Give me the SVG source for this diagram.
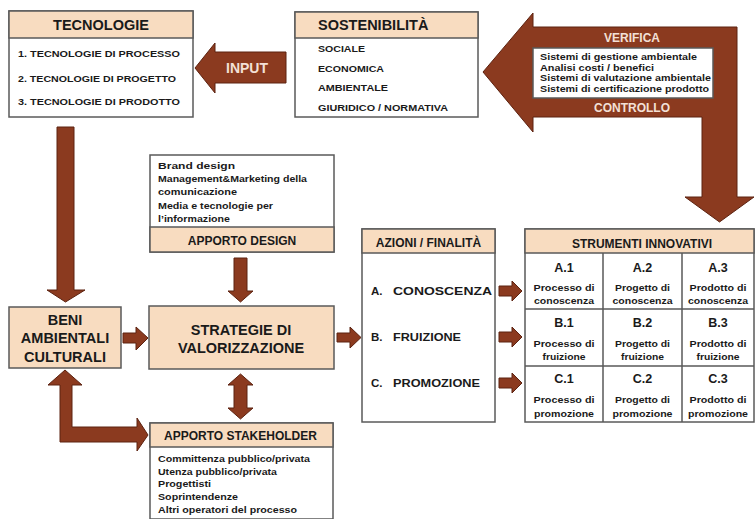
<svg xmlns="http://www.w3.org/2000/svg" width="755" height="519" viewBox="0 0 755 519">
<defs>
<style>
text{font-family:"Liberation Sans",Arial,sans-serif;font-weight:bold;fill:#1a1a1a}
.box{fill:#fff;stroke:#5a5a5a;stroke-width:1.5}
.hdr{fill:#f8dcc0;stroke:#5a5a5a;stroke-width:1.5}
.arr{fill:#8b3a1f;stroke:#5c2210;stroke-width:1}
.h1{font-size:14.5px;text-anchor:middle}
.h2{font-size:12px;text-anchor:middle}
.it{font-size:9.5px}
.sm{font-size:9.8px}
.ac{font-size:11.5px}
.c1{font-size:12.5px;text-anchor:middle}
.c2{font-size:9.8px;text-anchor:middle}
.lt{fill:#f3e0d6;text-anchor:middle}
.grid{stroke:#5a5a5a;stroke-width:1.5;fill:none}
</style>
</defs>

<g id="connectors">
<polygon class="arr" points="195,68 215,43 215,52 286,52 286,83 215,83 215,93"/>
<polygon class="arr" points="483,72 533,13 533,27 737,27 737,197 754,197 719.5,222 685,197 702,197 702,117 533,117 533,132"/>
<polygon class="arr" points="57,127 74,127 74,290 85,290 65.5,302 47,290 57,290"/>
<polygon class="arr" points="123,333 136,333 136,327 148,338 136,350 136,343 123,343"/>
<polygon class="arr" points="234,258 247,258 247,291 253,291 240.5,302 228,291 234,291"/>
<polygon class="arr" points="240.5,374 253,385 247,385 247,408 253,408 240.5,419 228,408 234,408 234,385 228,385"/>
<polygon class="arr" points="65,370 82,385 72,385 72,427 137,427 137,418 148,435 137,451 137,442 60,442 60,385 48,385"/>
<polygon class="arr" points="337,333 350,333 350,327 361,337.5 350,348 350,342 337,342"/>
<polygon class="arr" points="499,286 512,286 512,281 522,291 512,301 512,296 499,296"/>
<polygon class="arr" points="499,332 512,332 512,327 522,337 512,347 512,342 499,342"/>
<polygon class="arr" points="499,378 512,378 512,373 522,383 512,393 512,388 499,388"/>
<text class="lt" x="247" y="73" font-size="14">INPUT</text>
<text class="lt" x="632" y="42" font-size="12">VERIFICA</text>
<text class="lt" x="632" y="112" font-size="12">CONTROLLO</text>
</g>

<g id="verifica-box">
<rect class="box" x="533" y="48" width="180" height="50" stroke-width="1"/>
<text class="sm" x="540" y="60" textLength="157" lengthAdjust="spacingAndGlyphs">Sistemi di gestione ambientale</text>
<text class="sm" x="540" y="70.5" textLength="114" lengthAdjust="spacingAndGlyphs">Analisi costi / benefici</text>
<text class="sm" x="540" y="81" textLength="171" lengthAdjust="spacingAndGlyphs">Sistemi di valutazione ambientale</text>
<text class="sm" x="540" y="91.5" textLength="169" lengthAdjust="spacingAndGlyphs">Sistemi di certificazione prodotto</text>
</g>

<g id="tecnologie">
<rect class="box" x="9" y="11" width="184" height="106"/>
<rect class="hdr" x="9" y="11" width="184" height="27"/>
<text class="h1" x="101" y="30">TECNOLOGIE</text>
<text class="it" x="18" y="56.5" textLength="162" lengthAdjust="spacingAndGlyphs">1.  TECNOLOGIE DI PROCESSO</text>
<text class="it" x="18" y="81.5" textLength="158" lengthAdjust="spacingAndGlyphs">2.  TECNOLOGIE DI PROGETTO</text>
<text class="it" x="18" y="104.5" textLength="162" lengthAdjust="spacingAndGlyphs">3.  TECNOLOGIE DI PRODOTTO</text>
</g>

<g id="sostenibilita">
<rect class="box" x="295" y="12" width="183" height="105"/>
<rect class="hdr" x="295" y="12" width="183" height="26"/>
<text x="318" y="30" font-size="14.5">SOSTENIBILITÀ</text>
<text class="it" x="318" y="51.5" textLength="47" lengthAdjust="spacingAndGlyphs">SOCIALE</text>
<text class="it" x="318" y="71.5" textLength="66" lengthAdjust="spacingAndGlyphs">ECONOMICA</text>
<text class="it" x="318" y="90.5" textLength="70" lengthAdjust="spacingAndGlyphs">AMBIENTALE</text>
<text class="it" x="318" y="110.5" textLength="130" lengthAdjust="spacingAndGlyphs">GIURIDICO / NORMATIVA</text>
</g>

<g id="apporto-design">
<rect class="box" x="150" y="155" width="184" height="97"/>
<rect class="hdr" x="150" y="227" width="184" height="25"/>
<text class="h2" x="242" y="244.5">APPORTO DESIGN</text>
<text class="sm" x="158" y="168.5" textLength="77" lengthAdjust="spacingAndGlyphs">Brand design</text>
<text class="sm" x="158" y="181.5" textLength="149" lengthAdjust="spacingAndGlyphs">Management&amp;Marketing della</text>
<text class="sm" x="158" y="195" textLength="79" lengthAdjust="spacingAndGlyphs">comunicazione</text>
<text class="sm" x="158" y="208.5" textLength="115" lengthAdjust="spacingAndGlyphs">Media e tecnologie per</text>
<text class="sm" x="158" y="221.5" textLength="72" lengthAdjust="spacingAndGlyphs">l’informazione</text>
</g>

<g id="beni">
<rect class="hdr" x="9" y="307" width="112" height="61"/>
<text class="h1" x="65" y="325" font-size="14">BENI</text>
<text class="h1" x="65" y="343" font-size="14">AMBIENTALI</text>
<text class="h1" x="65" y="362" font-size="14">CULTURALI</text>
</g>

<g id="strategie">
<rect class="hdr" x="149" y="306" width="185" height="63"/>
<text class="h1" x="241" y="335" font-size="15">STRATEGIE DI</text>
<text class="h1" x="241" y="353" font-size="15">VALORIZZAZIONE</text>
</g>

<g id="stakeholder">
<rect class="box" x="150" y="423" width="183" height="96"/>
<rect class="hdr" x="150" y="423" width="183" height="24"/>
<text class="h2" x="240.5" y="440" font-size="13.5">APPORTO STAKEHOLDER</text>
<text class="sm" x="158" y="462" textLength="152" lengthAdjust="spacingAndGlyphs">Committenza pubblico/privata</text>
<text class="sm" x="158" y="475" textLength="119" lengthAdjust="spacingAndGlyphs">Utenza pubblico/privata</text>
<text class="sm" x="158" y="487" textLength="53" lengthAdjust="spacingAndGlyphs">Progettisti</text>
<text class="sm" x="158" y="500" textLength="80" lengthAdjust="spacingAndGlyphs">Soprintendenze</text>
<text class="sm" x="158" y="513" textLength="139" lengthAdjust="spacingAndGlyphs">Altri operatori del processo</text>
</g>

<g id="azioni">
<rect class="box" x="362" y="229" width="133" height="193"/>
<rect class="hdr" x="362" y="229" width="133" height="24"/>
<text class="h2" x="428.5" y="247" font-size="12.5">AZIONI / FINALITÀ</text>
<text class="ac" x="371" y="295">A.</text><text class="ac" x="393" y="295" textLength="99" lengthAdjust="spacingAndGlyphs">CONOSCENZA</text>
<text class="ac" x="371" y="341">B.</text><text class="ac" x="393" y="341" textLength="68" lengthAdjust="spacingAndGlyphs">FRUIZIONE</text>
<text class="ac" x="371" y="387">C.</text><text class="ac" x="393" y="387" textLength="87" lengthAdjust="spacingAndGlyphs">PROMOZIONE</text>
</g>

<g id="strumenti">
<rect class="box" x="525" y="229" width="229" height="193"/>
<rect class="hdr" x="525" y="229" width="229" height="24"/>
<text class="h2" x="642" y="247.5" font-size="13">STRUMENTI INNOVATIVI</text>
<path class="grid" d="M603,253V422M682,253V422M525,309H754M525,366H754"/>
<text class="c1" x="564" y="271.5">A.1</text>
<text class="c2" x="564" y="290.5" textLength="61" lengthAdjust="spacingAndGlyphs">Processo di</text>
<text class="c2" x="564" y="303.5" textLength="60" lengthAdjust="spacingAndGlyphs">conoscenza</text>
<text class="c1" x="642.5" y="271.5">A.2</text>
<text class="c2" x="642.5" y="290.5" textLength="55" lengthAdjust="spacingAndGlyphs">Progetto di</text>
<text class="c2" x="642.5" y="303.5" textLength="60" lengthAdjust="spacingAndGlyphs">conoscenza</text>
<text class="c1" x="718" y="271.5">A.3</text>
<text class="c2" x="718" y="290.5" textLength="57" lengthAdjust="spacingAndGlyphs">Prodotto di</text>
<text class="c2" x="718" y="303.5" textLength="60" lengthAdjust="spacingAndGlyphs">conoscenza</text>
<text class="c1" x="564" y="326.5">B.1</text>
<text class="c2" x="564" y="346.5" textLength="61" lengthAdjust="spacingAndGlyphs">Processo di</text>
<text class="c2" x="564" y="359.5" textLength="43" lengthAdjust="spacingAndGlyphs">fruizione</text>
<text class="c1" x="642.5" y="326.5">B.2</text>
<text class="c2" x="642.5" y="346.5" textLength="55" lengthAdjust="spacingAndGlyphs">Progetto di</text>
<text class="c2" x="642.5" y="359.5" textLength="43" lengthAdjust="spacingAndGlyphs">fruizione</text>
<text class="c1" x="718" y="326.5">B.3</text>
<text class="c2" x="718" y="346.5" textLength="57" lengthAdjust="spacingAndGlyphs">Prodotto di</text>
<text class="c2" x="718" y="359.5" textLength="43" lengthAdjust="spacingAndGlyphs">fruizione</text>
<text class="c1" x="564" y="382.5">C.1</text>
<text class="c2" x="564" y="402.5" textLength="61" lengthAdjust="spacingAndGlyphs">Processo di</text>
<text class="c2" x="564" y="416.5" textLength="60" lengthAdjust="spacingAndGlyphs">promozione</text>
<text class="c1" x="642.5" y="382.5">C.2</text>
<text class="c2" x="642.5" y="402.5" textLength="55" lengthAdjust="spacingAndGlyphs">Progetto di</text>
<text class="c2" x="642.5" y="416.5" textLength="60" lengthAdjust="spacingAndGlyphs">promozione</text>
<text class="c1" x="718" y="382.5">C.3</text>
<text class="c2" x="718" y="402.5" textLength="57" lengthAdjust="spacingAndGlyphs">Prodotto di</text>
<text class="c2" x="718" y="416.5" textLength="60" lengthAdjust="spacingAndGlyphs">promozione</text>
</g>
</svg>
